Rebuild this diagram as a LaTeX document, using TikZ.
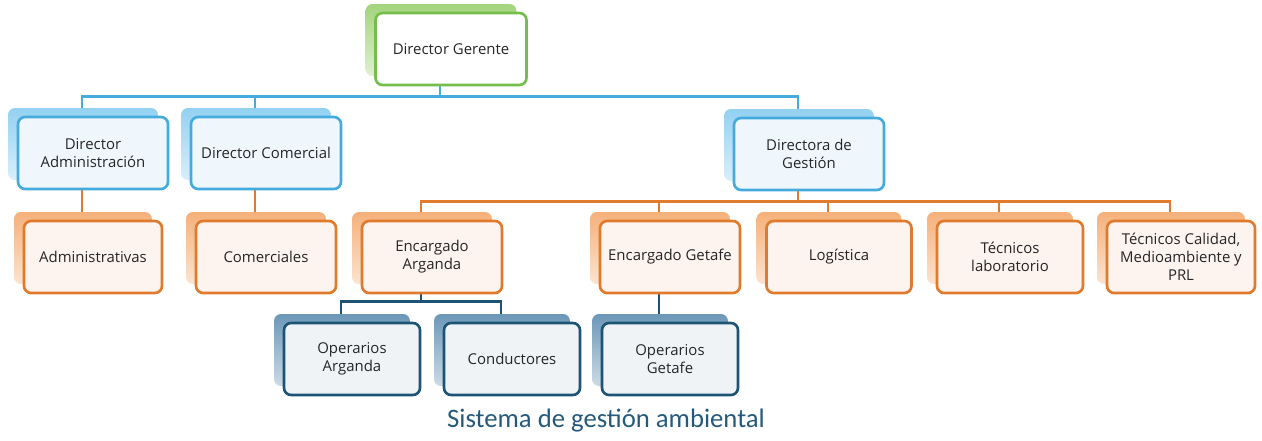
\documentclass[tikz,border=0pt]{standalone}
\usepackage{fontspec}
\setmainfont{Open Sans}
\newfontfamily\captionfont{Carlito}
\usetikzlibrary{positioning,shadows,backgrounds}

% colours of the four levels
\definecolor{greenline}{HTML}{74BF4B}
\definecolor{greenshade}{HTML}{A3D47C}
\definecolor{blueline}{HTML}{45ABDD}
\definecolor{blueshade}{HTML}{93D1F1}
\definecolor{bluefill}{HTML}{F0F7FC}
\definecolor{orangeline}{HTML}{E07A2C}
\definecolor{orangeshade}{HTML}{F5B07A}
\definecolor{orangefill}{HTML}{FDF3EF}
\definecolor{navyline}{HTML}{1D5375}
\definecolor{navyshade}{HTML}{6C97B7}
\definecolor{navyfill}{HTML}{EFF3F6}
\definecolor{captioncolor}{HTML}{245A7C}

\tikzset{
  box/.style={draw, line width=1.5pt, rounded corners=4pt, align=center,
    minimum height=1.44cm, inner sep=2pt, text=black!85,
    font=\fontsize{8.5}{10.2}\selectfont},
  boxshade/.style={copy shadow={shadow xshift=-0.2cm, shadow yshift=0.18cm,
    draw=none, top color=#1, bottom color=#1!35}},
  gerentebox/.style={box, draw=greenline, fill=white, minimum width=3.02cm,
    boxshade=greenshade},
  directorbox/.style={box, draw=blueline, fill=bluefill, minimum width=3cm,
    boxshade=blueshade},
  staffbox/.style={box, draw=orangeline, fill=orangefill, minimum width=2.8cm,
    boxshade=orangeshade},
  crewbox/.style={box, draw=navyline, fill=navyfill, minimum width=2.72cm,
    boxshade=navyshade},
  link/.style={line width=1.6pt}
}

\begin{document}
\begin{tikzpicture}[x=0.02cm, y=-0.02cm]
  \useasboundingbox (0,0) rectangle (1262,440);

  % top
  \node[gerentebox] (gerente) at (451,49) {Director Gerente};

  % directors
  \node[directorbox] (admin) at (93,153) {Director\\Administración};
  \node[directorbox] (comercial) at (266,153) {Director Comercial};
  \node[directorbox] (gestion) at (809,154) {Directora de\\Gestión};

  % staff
  \node[staffbox, minimum width=2.76cm] (administrativas) at (93,257) {Administrativas};
  \node[staffbox] (comerciales) at (266,257) {Comerciales};
  \node[staffbox] (arganda) at (432,257) {Encargado\\Arganda};
  \node[staffbox] (getafe) at (670,257) {Encargado Getafe};
  \node[staffbox, minimum width=2.9cm] (logistica) at (839,257) {Logística};
  \node[staffbox, minimum width=2.92cm] (laboratorio) at (1010,257) {Técnicos\\laboratorio};
  \node[staffbox, minimum width=2.96cm] (calidad) at (1181,257) {Técnicos Calidad,\\Medioambiente y\\PRL};

  % crews
  \node[crewbox] (oparganda) at (352,359) {Operarios\\Arganda};
  \node[crewbox] (conductores) at (512,359) {Conductores};
  \node[crewbox] (opgetafe) at (670,359) {Operarios\\Getafe};

  \node[font=\captionfont\fontsize{15.2}{17}\selectfont, text=captioncolor] (caption)
    at (606,421) {Sistema de gestión ambiental};

  \begin{pgfonlayer}{background}
    % blue links
    \draw[link, blueline] ([xshift=-0.22cm]gerente.south) -- ++(0,10) coordinate (bluejoin);
    \foreach \n in {admin,comercial,gestion}
      \draw[link, blueline] (bluejoin) -| ([xshift=-0.22cm]\n.north);
    % orange links
    \draw[link, orangeline] ([xshift=-0.22cm]admin.south) -- ([xshift=-0.22cm]administrativas.north);
    \draw[link, orangeline] ([xshift=-0.22cm]comercial.south) -- ([xshift=-0.22cm]comerciales.north);
    \draw[link, orangeline] ([xshift=-0.22cm]gestion.south) -- ++(0,10) coordinate (orangejoin);
    \foreach \n in {arganda,getafe,logistica,laboratorio,calidad}
      \draw[link, orangeline] (orangejoin) -| ([xshift=-0.22cm]\n.north);
    % navy links
    \draw[link, navyline] ([xshift=-0.22cm]arganda.south) -- ++(0,7) coordinate (navyjoin);
    \foreach \n in {oparganda,conductores}
      \draw[link, navyline] (navyjoin) -| ([xshift=-0.22cm]\n.north);
    \draw[link, navyline] ([xshift=-0.22cm]getafe.south) -- ([xshift=-0.22cm]opgetafe.north);
  \end{pgfonlayer}
\end{tikzpicture}
\end{document}
